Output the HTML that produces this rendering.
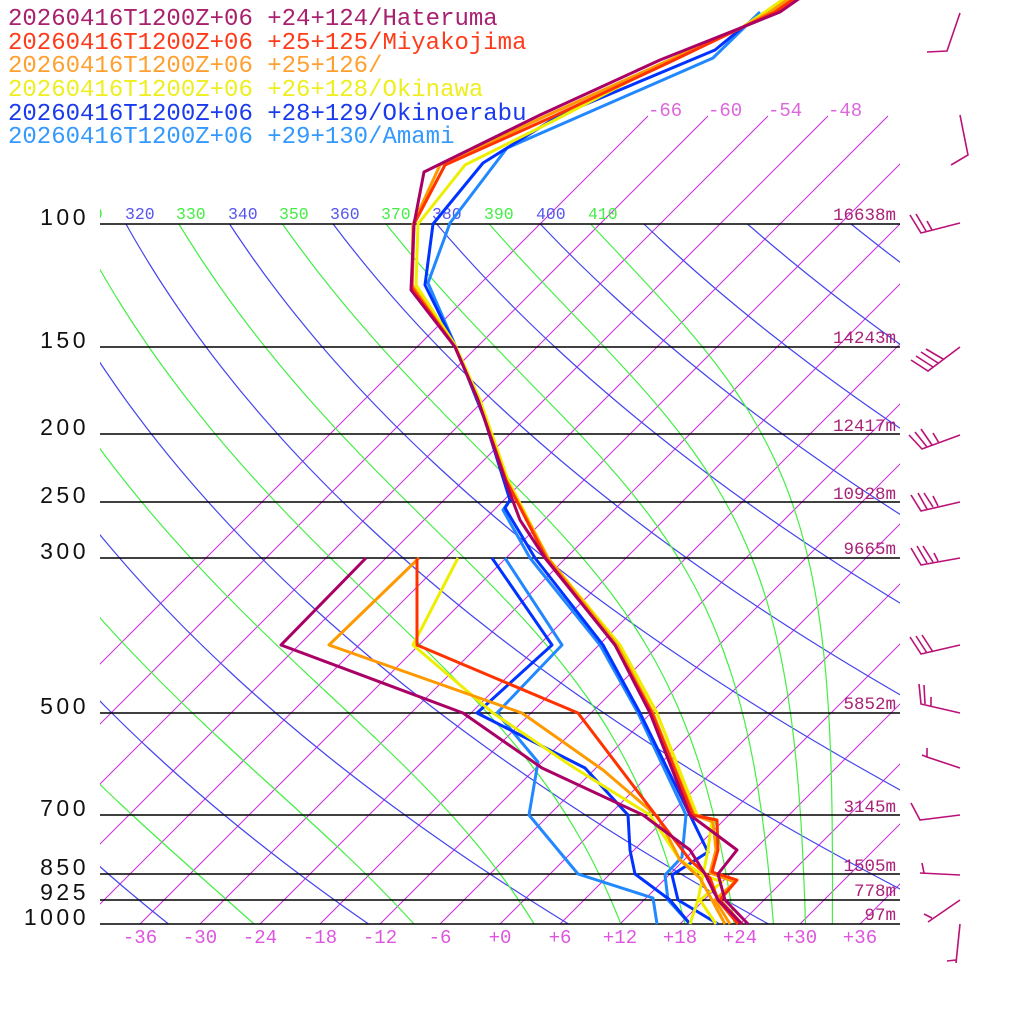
<!DOCTYPE html>
<html><head><meta charset="utf-8"><style>
html,body{margin:0;padding:0;background:#fff;}
svg{display:block;}
.mono{font-family:"Liberation Mono","DejaVu Sans Mono",monospace;}
</style></head><body>
<svg id="s" width="1024" height="1024" viewBox="0 0 1024 1024" xmlns="http://www.w3.org/2000/svg">
<defs>
<clipPath id="cp"><rect x="100" y="100" width="800" height="824"/></clipPath>
<clipPath id="ca"><rect x="100" y="224" width="800" height="700"/></clipPath>
<clipPath id="cl"><rect x="100" y="195" width="800" height="40"/></clipPath>
</defs>
<g id="iso" clip-path="url(#cp)" fill="none" stroke-width="1.1"></g>
<g id="ad" clip-path="url(#ca)" fill="none" stroke-width="1.2"></g>
<g stroke="#000" stroke-width="1.5">
<line x1="100" y1="224" x2="900" y2="224"/><line x1="100" y1="347" x2="900" y2="347"/>
<line x1="100" y1="434" x2="900" y2="434"/><line x1="100" y1="502" x2="900" y2="502"/>
<line x1="100" y1="558" x2="900" y2="558"/><line x1="100" y1="713" x2="900" y2="713"/>
<line x1="100" y1="815" x2="900" y2="815"/><line x1="100" y1="874" x2="900" y2="874"/>
<line x1="100" y1="900" x2="900" y2="900"/><line x1="100" y1="924" x2="900" y2="924"/>
</g>
<g class="mono" font-size="16.5" clip-path="url(#cl)">
<text x="73" y="219" fill="#44ee44">310</text><text x="125" y="219" fill="#5555ee">320</text>
<text x="176" y="219" fill="#44ee44">330</text><text x="228" y="219" fill="#5555ee">340</text>
<text x="279" y="219" fill="#44ee44">350</text><text x="330" y="219" fill="#5555ee">360</text>
<text x="381" y="219" fill="#44ee44">370</text><text x="432" y="219" fill="#5555ee">380</text>
<text x="484" y="219" fill="#44ee44">390</text><text x="536" y="219" fill="#5555ee">400</text>
<text x="588" y="219" fill="#44ee44">410</text>
</g>
<g class="mono" font-size="19" fill="#dd66dd">
<text x="648" y="116">-66</text><text x="708" y="116">-60</text><text x="768" y="116">-54</text><text x="828" y="116">-48</text>
</g>
<g class="mono" font-size="19" fill="#dd55dd" text-anchor="middle">
<text x="140" y="943">-36</text><text x="200" y="943">-30</text><text x="260" y="943">-24</text><text x="320" y="943">-18</text>
<text x="380" y="943">-12</text><text x="440" y="943">-6</text><text x="500" y="943">+0</text><text x="560" y="943">+6</text>
<text x="620" y="943">+12</text><text x="680" y="943">+18</text><text x="740" y="943">+24</text><text x="800" y="943">+30</text><text x="860" y="943">+36</text>
</g>
<g font-family="'Liberation Sans','DejaVu Sans',sans-serif" font-size="23" fill="#111" text-anchor="end" letter-spacing="3.5">
<text x="89" y="225">100</text><text x="89" y="348">150</text><text x="89" y="435">200</text><text x="89" y="503">250</text>
<text x="89" y="559">300</text><text x="89" y="714">500</text><text x="89" y="816">700</text><text x="89" y="875">850</text>
<text x="89" y="900">925</text><text x="89" y="925">1000</text>
</g>
<g class="mono" font-size="17.5" fill="#aa2277" text-anchor="end">
<text x="896" y="220">16638m</text><text x="896" y="343">14243m</text><text x="896" y="431">12417m</text>
<text x="896" y="499">10928m</text><text x="896" y="554">9665m</text><text x="896" y="709">5852m</text>
<text x="896" y="812">3145m</text><text x="896" y="871">1505m</text><text x="896" y="896">778m</text><text x="896" y="920">97m</text>
</g>
<g fill="none" stroke-width="3" stroke-linejoin="round">
<polyline stroke="#2288ff" points="760,12 713,58 507,148 450,223 428,283 455,345 485,420 510,500 503,510 530,558 600,645 638,713 686,815 682,857 665,875 668,900 690,924"/>
<polyline stroke="#2288ff" points="505,558 562,645 497,713 538,762 529,815 578,874 653,898 657,924"/>
<polyline stroke="#0033ff" points="786,-2 743,27 715,50 560,115 483,163 433,224 425,285 455,345 485,420 510,500 505,508 535,558 603,645 640,713 690,815 708,852 672,875 678,900 718,924"/>
<polyline stroke="#0033ff" points="492,558 552,645 477,713 585,768 628,815 630,850 635,874 670,900 690,924"/>
<polyline stroke="#eeee00" points="785,-2 765,12 743,27 670,60 555,120 465,165 418,224 416,285 455,345 480,400 508,480 548,558 620,645 657,713 697,815 712,820 708,850 703,875 722,882 700,900 716,924"/>
<polyline stroke="#eeee00" points="458,558 413,645 493,713 573,767 650,815 680,860 703,875 698,900 690,924"/>
<polyline stroke="#ff9900" points="790,-2 770,12 743,27 665,62 548,115 440,165 413,224 412,285 455,347 478,400 506,480 548,558 617,645 653,713 694,815 713,822 716,850 710,873 735,882 715,900 730,924"/>
<polyline stroke="#ff9900" points="419,558 329,645 522,713 603,770 658,817 680,860 700,878 712,900 725,924"/>
<polyline stroke="#ff3300" points="795,-2 775,12 743,27 670,62 550,118 445,165 414,224 412,288 455,347 478,400 506,480 546,558 615,645 652,713 693,815 717,820 718,850 712,872 737,880 720,900 742,924"/>
<polyline stroke="#ff3300" points="417,558 417,645 578,713 657,817 690,860 710,878 718,900 738,924"/>
<polyline stroke="#aa0066" points="800,-2 780,12 743,27 660,60 540,115 424,172 414,224 411,290 455,347 478,400 505,480 520,520 545,558 615,645 650,713 690,815 737,850 718,874 725,900 748,924"/>
<polyline stroke="#aa0066" points="366,558 281,645 463,713 542,768 643,815 690,850 705,874 718,900 742,924"/>
</g>
<g fill="none" stroke="#bb1177" stroke-width="1.6">
<polyline points="960,13 947,51 927,52"/>
<polyline points="960,115 968,155 951,165"/>
<path d="M960,223 L921,233 L910,215 M926,231 L916,214 M932,230 L927,221"/>
<path d="M960,347 L928,371 L911,360 M933,367 L916,356 M938,363 L921,352 M943,359 L926,349"/>
<path d="M960,435 L922,449 L909,435 M927,447 L915,432 M932,445 L921,429 M939,443 L933,433"/>
<path d="M960,502 L921,511 L911,495 M927,509 L918,493 M933,507 L924,493 M938,506 L933,496"/>
<path d="M960,558 L921,565 L911,548 M927,563 L917,546 M933,562 L923,546 M938,561 L934,553"/>
<path d="M960,645 L921,654 L910,637 M927,653 L916,636 M933,652 L922,635"/>
<path d="M960,713 L921,704 L919,684 M925,704 L924,685 M931,706 L931,697"/>
<path d="M960,768 L927,757 L927,748 M927,757 L922,755"/>
<polyline points="911,803 920,820 960,815"/>
<path d="M960,875 L920,873 M924,873 L922,863"/>
<path d="M960,900 L928,922 M932,918 L924,914"/>
<path d="M960,924 L956,963 M956,960 L947,961"/>
</g>
<g class="mono" font-size="24">
<text x="8" y="25" fill="#a8206e">20260416T1200Z+06 +24+124/Hateruma</text>
<text x="8" y="49" fill="#ff3b1a">20260416T1200Z+06 +25+125/Miyakojima</text>
<text x="8" y="72" fill="#ffa030">20260416T1200Z+06 +25+126/</text>
<text x="8" y="96" fill="#eeee20">20260416T1200Z+06 +26+128/Okinawa</text>
<text x="8" y="120" fill="#1a3aee">20260416T1200Z+06 +28+129/Okinoerabu</text>
<text x="8" y="143" fill="#3399ff">20260416T1200Z+06 +29+130/Amami</text>
</g>
</svg>
<script>
(function(){
var NS="http://www.w3.org/2000/svg";
function xT(tc,y){return 500+10*tc+(924-y);}
var iso=document.getElementById('iso');
for(var T=-66;T<=42;T+=6){
  var l=document.createElementNS(NS,'line');
  l.setAttribute('x1',xT(T,924));l.setAttribute('y1',924);
  l.setAttribute('x2',xT(T,116));l.setAttribute('y2',116);
  l.setAttribute('stroke','#cc33dd');iso.appendChild(l);
}
function thetae(T,p){
  var tc=T-273.15;var e=6.112*Math.exp(17.67*tc/(tc+243.5));
  if(e>p*0.5)e=p*0.5;
  var r=622*e/(p-e);
  return T*Math.pow(1000/p,0.2854*(1-0.00028*r))*Math.exp((3.376/T-0.00254)*r*(1+0.00081*r));
}
var ad=document.getElementById('ad');
function addLine(pts,col){
  var pl=document.createElementNS(NS,'polyline');
  pl.setAttribute('points',pts.join(' '));
  pl.setAttribute('stroke',col);ad.appendChild(pl);
}
for(var th=200;th<=700;th+=20){
  var pts=[];
  for(var y=224;y<=924;y+=7){
    var p=1000*Math.exp(-(924-y)/304);
    var T=th*Math.pow(p/1000,0.2857)-273.15;
    pts.push(xT(T,y).toFixed(1)+','+y);
  }
  addLine(pts,'#4444ee');
}
for(var th=210;th<=410;th+=20){
  var pts=[];
  for(var y=224;y<=924;y+=4){
    var p=1000*Math.exp(-(924-y)/304);
    var lo=120,hi=340;
    for(var i=0;i<50;i++){var m=(lo+hi)/2;if(thetae(m,p)>th)hi=m;else lo=m;}
    var T=(lo+hi)/2-273.15;
    pts.push(xT(T,y).toFixed(1)+','+y);
  }
  addLine(pts,'#44ee44');
}
})();
</script>
</body></html>
